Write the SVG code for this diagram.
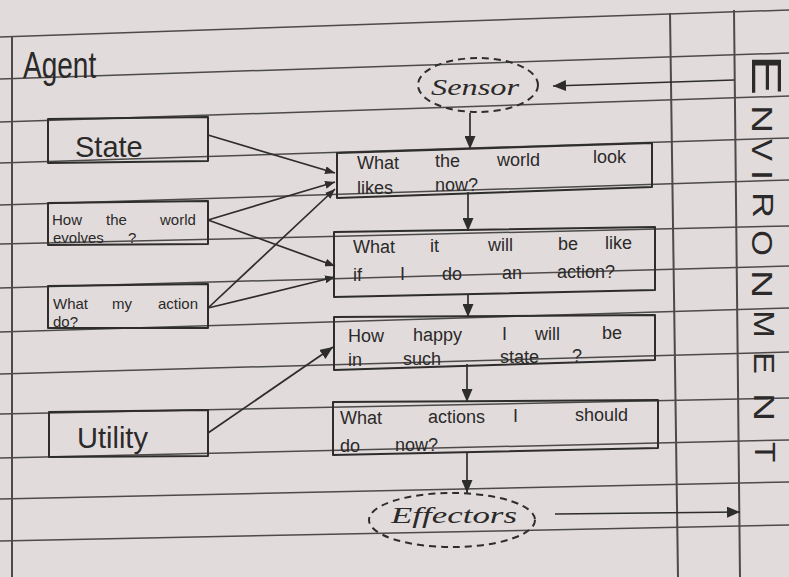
<svg xmlns="http://www.w3.org/2000/svg" width="789" height="577" viewBox="0 0 789 577">
  <defs>
    <style>
      .rule { stroke: #4d4a4a; stroke-width: 1.5; fill: none; }
      .box { stroke: #2e2c2c; stroke-width: 2; fill: none; stroke-linejoin: round; }
      .ink { stroke: #2e2c2c; stroke-width: 1.7; fill: none; }
      .dash { stroke: #2e2c2c; stroke-width: 2; fill: none; stroke-dasharray: 7 5; }
      .t { font-family: "Liberation Sans", Arial, sans-serif; fill: #2b2929; font-size: 18px; }
      .sm { font-size: 15px; }
      .big { font-size: 29px; }
      .script { font-family: "Liberation Serif", serif; font-style: italic; font-size: 24px; fill: #2b2929; }
      .env { font-family: "Liberation Sans", Arial, sans-serif; fill: #2b2929; font-size: 30px; text-anchor: middle; }
    </style>
    <marker id="head-s" markerUnits="userSpaceOnUse" markerWidth="10" markerHeight="8" refX="10" refY="4" orient="auto">
      <path d="M0,0 L10,4 L0,8 z" fill="#2e2c2c"/>
    </marker>
    <marker id="head-b" markerUnits="userSpaceOnUse" markerWidth="13" markerHeight="11" refX="13" refY="5.5" orient="auto">
      <path d="M0,0 L13,5.5 L0,11 z" fill="#2e2c2c"/>
    </marker>
  </defs>

  <!-- notebook page -->
  <rect x="0" y="0" width="789" height="577" fill="#e1dcdb"/>
  <g id="ruling">
    <line class="rule" x1="0" y1="37" x2="789" y2="10"/>
    <line class="rule" x1="0" y1="79" x2="789" y2="53"/>
    <line class="rule" x1="0" y1="122" x2="789" y2="96"/>
    <line class="rule" x1="0" y1="163" x2="789" y2="138"/>
    <line class="rule" x1="0" y1="205" x2="789" y2="180"/>
    <line class="rule" x1="0" y1="244" x2="789" y2="226"/>
    <line class="rule" x1="0" y1="288" x2="789" y2="266"/>
    <line class="rule" x1="0" y1="332" x2="789" y2="308"/>
    <line class="rule" x1="0" y1="374" x2="789" y2="352"/>
    <line class="rule" x1="0" y1="414" x2="789" y2="398"/>
    <line class="rule" x1="0" y1="458" x2="789" y2="440"/>
    <line class="rule" x1="0" y1="499" x2="789" y2="482"/>
    <line class="rule" x1="0" y1="541" x2="789" y2="525"/>
    <line class="rule" x1="12" y1="37" x2="12" y2="577" style="stroke-width:2"/>
    <line class="rule" x1="670" y1="13" x2="678" y2="577" style="stroke-width:2"/>
    <line class="rule" x1="734" y1="10" x2="740" y2="577" style="stroke-width:2"/>
  </g>

  <text id="agent-title" class="t" transform="translate(23,78) scale(1,1.3)" style="font-size:28px">Agent</text>

  <!-- knowledge boxes on the left -->
  <g id="state">
    <polygon class="box" points="48,119 208,117 208,161 48,163"/>
    <text class="t big" x="75" y="157">State</text>
  </g>
  <g id="world-evolves">
    <polygon class="box" points="48,203 208,201 208,244 48,245"/>
    <text class="t sm" y="225"><tspan x="52">How</tspan><tspan x="106">the</tspan><tspan x="160">world</tspan></text>
    <text class="t sm" y="243"><tspan x="53">evolves</tspan><tspan x="128">?</tspan></text>
  </g>
  <g id="action-effects">
    <polygon class="box" points="48,286 208,284 208,328 48,328"/>
    <text class="t sm" y="309"><tspan x="53">What</tspan><tspan x="112">my</tspan><tspan x="158">action</tspan></text>
    <text class="t sm" x="53" y="327">do?</text>
  </g>
  <g id="utility">
    <polygon class="box" points="49,412 208,410 208,456 49,457"/>
    <text class="t big" x="77" y="448">Utility</text>
  </g>

  <!-- reasoning chain -->
  <g id="sensor">
    <ellipse class="dash" cx="478" cy="85" rx="60" ry="27"/>
    <text class="script" x="431" y="95" textLength="88" lengthAdjust="spacingAndGlyphs">Sensor</text>
  </g>
  <g id="world-now">
    <polygon class="box" points="337,153 652,143 652,187 337,198"/>
    <text class="t"><tspan x="357" y="169">What</tspan><tspan x="435" y="167">the</tspan><tspan x="497" y="166">world</tspan><tspan x="593" y="163">look</tspan></text>
    <text class="t"><tspan x="357" y="194">likes</tspan><tspan x="435" y="191">now?</tspan></text>
  </g>
  <g id="world-after-action">
    <polygon class="box" points="334,232 655,227 655,290 334,297"/>
    <text class="t"><tspan x="353" y="253">What</tspan><tspan x="430" y="252">it</tspan><tspan x="488" y="251">will</tspan><tspan x="558" y="250">be</tspan><tspan x="605" y="249">like</tspan></text>
    <text class="t"><tspan x="353" y="281">if</tspan><tspan x="400" y="280">I</tspan><tspan x="442" y="280">do</tspan><tspan x="502" y="279">an</tspan><tspan x="557" y="278">action?</tspan></text>
  </g>
  <g id="happiness">
    <polygon class="box" points="334,317 655,315 655,360 334,370"/>
    <text class="t"><tspan x="348" y="342">How</tspan><tspan x="413" y="341">happy</tspan><tspan x="502" y="340">I</tspan><tspan x="535" y="340">will</tspan><tspan x="602" y="339">be</tspan></text>
    <text class="t"><tspan x="348" y="366">in</tspan><tspan x="403" y="365">such</tspan><tspan x="500" y="363">state</tspan><tspan x="572" y="362">?</tspan></text>
  </g>
  <g id="decision">
    <polygon class="box" points="333,402 658,400 658,448 333,455"/>
    <text class="t"><tspan x="340" y="424">What</tspan><tspan x="428" y="423">actions</tspan><tspan x="513" y="422">I</tspan><tspan x="575" y="421">should</tspan></text>
    <text class="t"><tspan x="340" y="452">do</tspan><tspan x="395" y="451">now?</tspan></text>
  </g>
  <g id="effectors">
    <ellipse class="dash" cx="452" cy="520" rx="83" ry="27"/>
    <text class="script" x="391" y="523" textLength="126" lengthAdjust="spacingAndGlyphs">Effectors</text>
  </g>

  <!-- environment column, letters turned a quarter clockwise -->
  <g id="environment">
    <text class="env" transform="translate(767,75) rotate(90) scale(1.45,1)" dy="0.36em" style="font-size:42px">E</text>
    <text class="env" transform="translate(763,119) rotate(90) scale(1.3,1)" dy="0.36em">N</text>
    <text class="env" transform="translate(763,150) rotate(90) scale(1.1,1)" dy="0.36em">V</text>
    <text class="env" transform="translate(763,175) rotate(90) scale(1.2,1)" dy="0.36em">I</text>
    <text class="env" transform="translate(764,205) rotate(90) scale(1.2,1)" dy="0.36em">R</text>
    <text class="env" transform="translate(763,243) rotate(90) scale(1.1,1)" dy="0.36em">O</text>
    <text class="env" transform="translate(763,284) rotate(90) scale(1.3,1)" dy="0.36em">N</text>
    <text class="env" transform="translate(765,324) rotate(90) scale(1.1,1)" dy="0.36em">M</text>
    <text class="env" transform="translate(765,363) rotate(90) scale(1.1,1)" dy="0.36em">E</text>
    <text class="env" transform="translate(765,407) rotate(90) scale(1.3,1)" dy="0.36em">N</text>
    <text class="env" transform="translate(766,452) rotate(90) scale(1.1,1)" dy="0.36em">T</text>
  </g>

  <g id="connectors">
    <line class="ink" x1="208" y1="135" x2="335" y2="173" marker-end="url(#head-s)"/>
    <line class="ink" x1="208" y1="220" x2="335" y2="182" marker-end="url(#head-s)"/>
    <line class="ink" x1="208" y1="220" x2="335" y2="266" marker-end="url(#head-s)"/>
    <line class="ink" x1="208" y1="308" x2="335" y2="189" marker-end="url(#head-s)"/>
    <line class="ink" x1="208" y1="308" x2="335" y2="277" marker-end="url(#head-s)"/>
    <line class="ink" x1="208" y1="433" x2="333" y2="347" marker-end="url(#head-b)"/>
    <line class="ink" x1="470" y1="113" x2="470" y2="149" marker-end="url(#head-b)"/>
    <line class="ink" x1="468" y1="192" x2="468" y2="231" marker-end="url(#head-b)"/>
    <line class="ink" x1="468" y1="294" x2="468" y2="317" marker-end="url(#head-b)"/>
    <line class="ink" x1="467" y1="364" x2="467" y2="402" marker-end="url(#head-b)"/>
    <line class="ink" x1="467" y1="452" x2="467" y2="493" marker-end="url(#head-b)"/>
    <line class="ink" x1="734" y1="80" x2="553" y2="86" marker-end="url(#head-b)"/>
    <line class="ink" x1="555" y1="514" x2="740" y2="512" marker-end="url(#head-b)"/>
  </g>
</svg>
